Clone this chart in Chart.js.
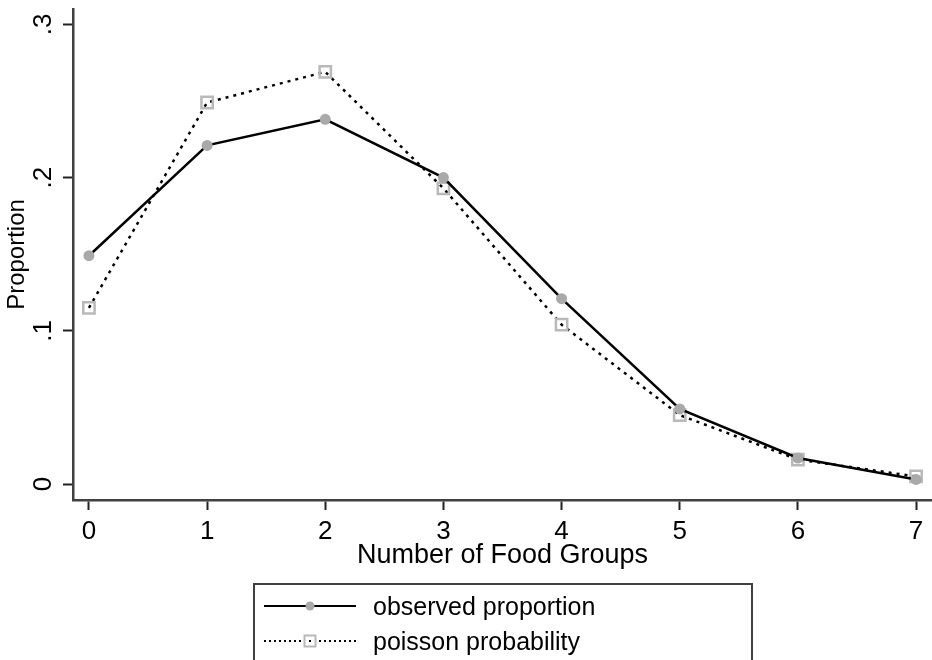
<!DOCTYPE html>
<html>
<head>
<meta charset="utf-8">
<script src="https://cdn.jsdelivr.net/npm/chart.js@4/dist/chart.umd.min.js"></script>
<style>
    html, body { margin: 0; padding: 0; background: #fff; }
    #wrap { position: relative; width: 932px; height: 660px; overflow: hidden; font-family: "Liberation Sans", Arial, sans-serif; }
    #chart { position: absolute; left: 0; top: 0; }
    .legend { position: absolute; left: 253px; top: 583px; width: 500px; height: 100px; border: 2px solid #404040; box-sizing: border-box; }
    .legend-row { position: absolute; left: 8px; height: 30px; display: flex; align-items: center; }
    .legend-row svg { display: block; }
    .legend-row span { margin-left: 16px; font-size: 25px; color: #000; line-height: 30px; }
</style>
</head>
<body>
<div id="wrap">
    <canvas id="chart" width="932" height="660"></canvas>
    <div class="legend">
        <div class="legend-row" style="top: 6px;">
            <svg width="94" height="14">
                <line x1="1" y1="7" x2="93" y2="7" stroke="#000" stroke-width="2"/>
                <circle cx="47" cy="7" r="4.5" fill="#a9a9a9"/>
            </svg>
            <span>observed proportion</span>
        </div>
        <div class="legend-row" style="top: 41px;">
            <svg width="94" height="14">
                <line x1="1" y1="7" x2="93" y2="7" stroke="#000" stroke-width="2" stroke-dasharray="2,3"/>
                <rect x="41.5" y="1.5" width="11" height="11" fill="#fff" stroke="#b9b9b9" stroke-width="2"/>
                <rect x="46" y="6" width="2" height="2" fill="#000"/>
            </svg>
            <span>poisson probability</span>
        </div>
    </div>
</div>
<script>
// values
const foodGroups = [0, 1, 2, 3, 4, 5, 6, 7];
const observedProportion = [0.149, 0.221, 0.238, 0.200, 0.121, 0.049, 0.017, 0.003];
const poissonProbability = [0.115, 0.249, 0.269, 0.193, 0.104, 0.045, 0.016, 0.005];
const xTicks = [0, 1, 2, 3, 4, 5, 6, 7];
const yTicks = [0, 0.1, 0.2, 0.3];

const toPoints = vals => foodGroups.map((g, i) => ({ x: g, y: vals[i] }));

const fmtY = v => v === 0 ? '0' : v.toFixed(1).replace(/^0/, '');

new Chart(document.getElementById('chart'), {
    type: 'line',
    data: {
        datasets: [
            {
                label: 'observed proportion',
                data: toPoints(observedProportion),
                borderColor: '#000',
                borderWidth: 2.5,
                pointStyle: 'circle',
                pointRadius: 5.5,
                pointBackgroundColor: '#a9a9a9',
                pointBorderWidth: 0,
                tension: 0,
                clip: false
            },
            {
                label: 'poisson probability',
                data: toPoints(poissonProbability),
                borderColor: '#000',
                borderWidth: 2.5,
                borderDash: [3, 5],
                pointStyle: 'rect',
                pointRadius: 8,
                pointBackgroundColor: 'rgba(0,0,0,0)',
                pointBorderColor: '#b9b9b9',
                pointBorderWidth: 2.5,
                tension: 0,
                clip: false
            }
        ]
    },
    options: {
        responsive: false,
        animation: false,
        layout: { autoPadding: false, padding: { top: 9, left: 0, right: 0, bottom: 80 } },
        plugins: {
            legend: { display: false },
            tooltip: { enabled: false }
        },
        scales: {
            x: {
                type: 'linear',
                min: -0.135,
                max: 7.135,
                afterBuildTicks: s => { s.ticks = xTicks.map(v => ({ value: v })); },
                afterFit: s => { s.height = 80; s.paddingLeft = 0; s.paddingRight = 0; },
                ticks: {
                    color: '#000',
                    font: { family: 'Liberation Sans', size: 26 },
                    padding: 6,
                    maxRotation: 0,
                    autoSkip: false
                },
                grid: { drawOnChartArea: false, drawTicks: true, tickLength: 10, tickColor: '#222', tickWidth: 2 },
                border: { display: true, color: '#404040', width: 2.5 },
                title: {
                    display: true,
                    text: 'Number of Food Groups',
                    color: '#000',
                    font: { family: 'Liberation Sans', size: 27 },
                    padding: { top: 0, bottom: 8 }
                }
            },
            y: {
                type: 'linear',
                min: -0.0104,
                max: 0.31,
                afterBuildTicks: s => { s.ticks = yTicks.map(v => ({ value: v })); },
                afterFit: s => { s.width = 73; s.paddingTop = 0; s.paddingBottom = 0; },
                ticks: {
                    color: '#000',
                    font: { family: 'Liberation Sans', size: 26 },
                    padding: 8,
                    minRotation: 90,
                    maxRotation: 90,
                    crossAlign: 'center',
                    callback: v => fmtY(v)
                },
                grid: { drawOnChartArea: false, drawTicks: true, tickLength: 10, tickColor: '#222', tickWidth: 2 },
                border: { display: true, color: '#404040', width: 2.5 },
                title: {
                    display: true,
                    text: 'Proportion',
                    color: '#000',
                    font: { family: 'Liberation Sans', size: 24 },
                    padding: { top: 3, bottom: 0 }
                }
            }
        }
    }
});
</script>
</body>
</html>
